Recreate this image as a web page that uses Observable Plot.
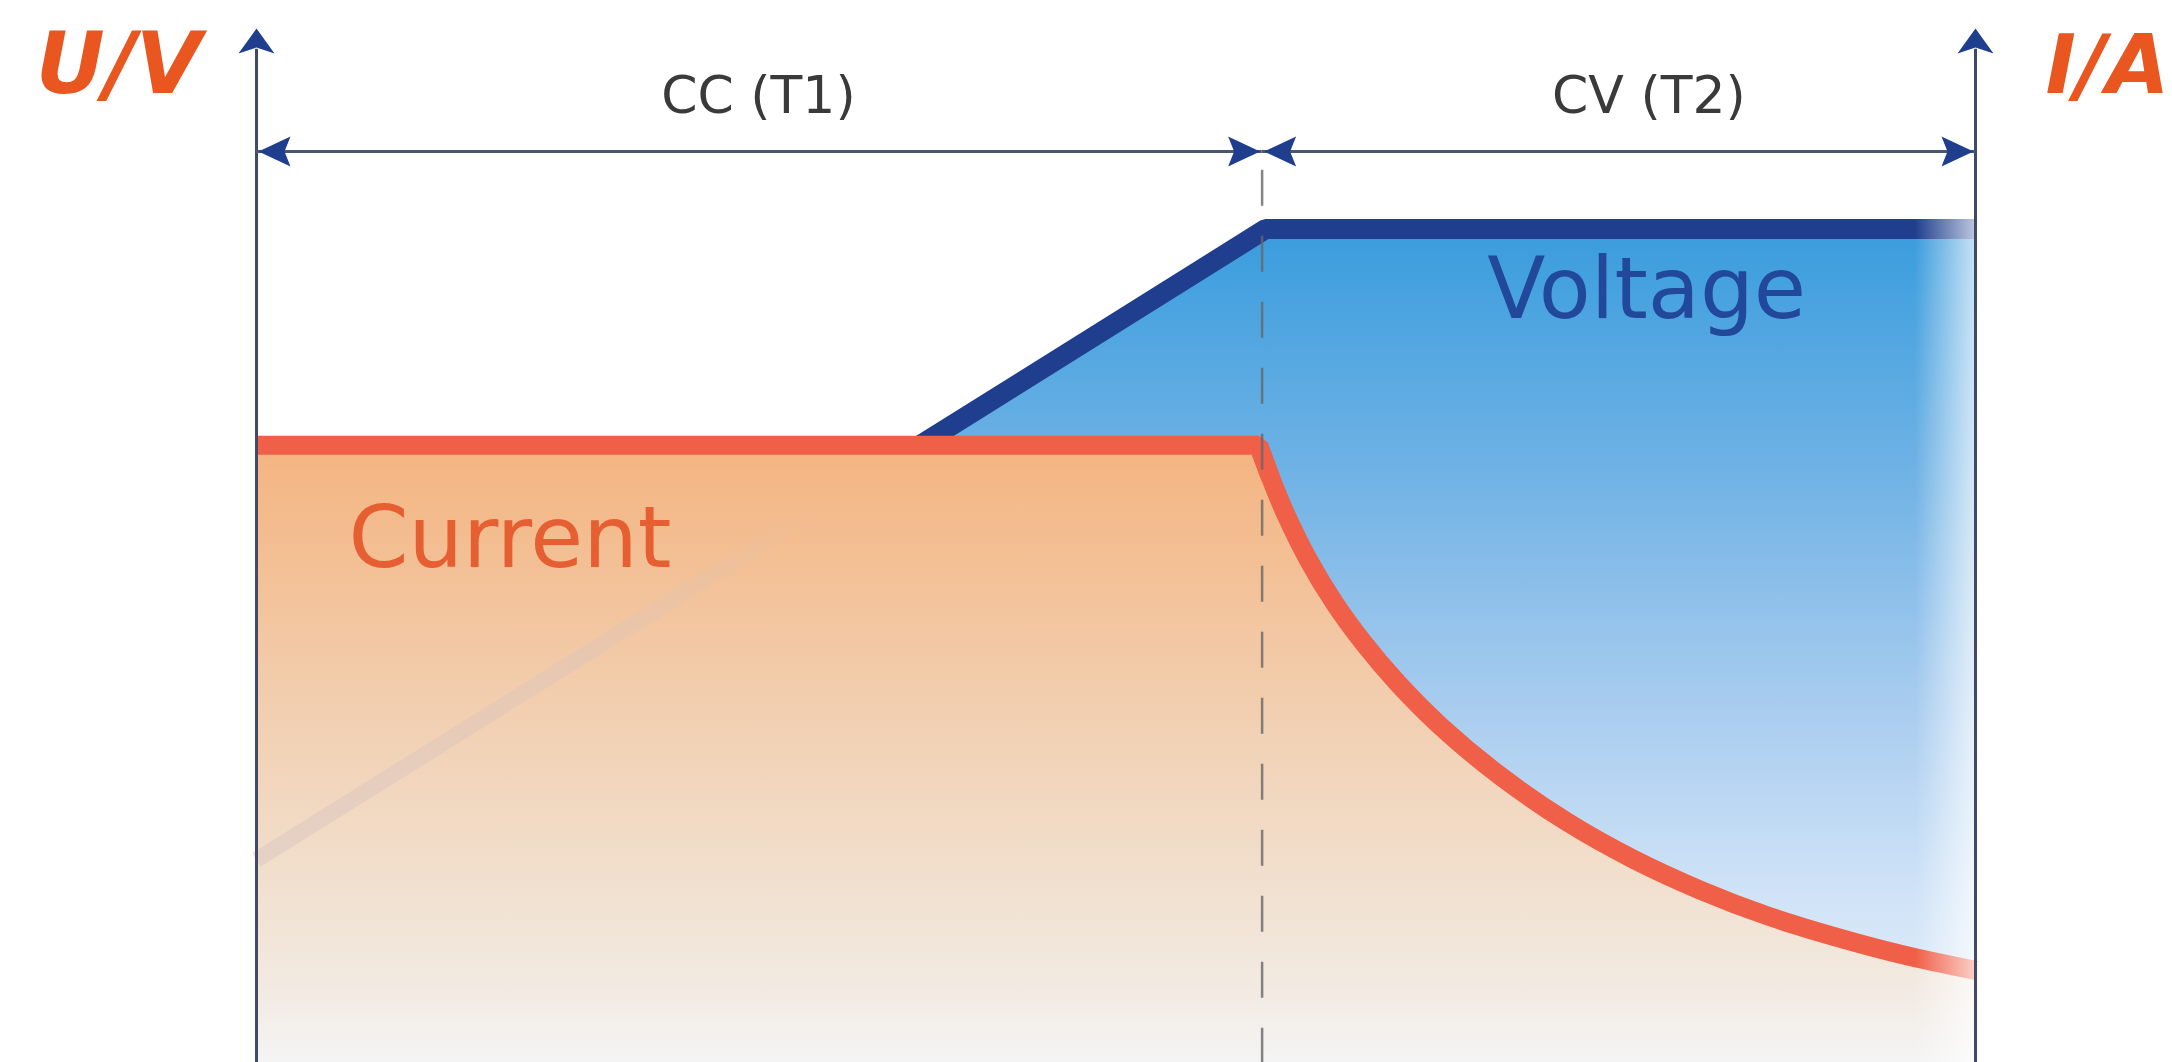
<!DOCTYPE html>
<html>
<head>
<meta charset="utf-8">
<script src="https://cdn.jsdelivr.net/npm/d3@7"></script>
<script src="https://cdn.jsdelivr.net/npm/@observablehq/plot@0.6"></script>
<style>
  html, body { margin: 0; padding: 0; background: #ffffff; }
  #chart svg { display: block; }
</style>
</head>
<body>
<div id="chart"></div>
<script>
// ---- data (time in % of total charge time, values in % of axis height) ----
const phaseNames  = ["CC (T1)", "CV (T2)"];
const phaseStart  = [0, 58.5];
const phaseEnd    = [58.5, 100];
const phaseLabelX = [29.2, 81.0];
const phaseArrowY = 88.1;
const phaseLabelY = 91.8;

const axisNames   = ["U/V", "I/A"];
const axisT       = [0, 100];
const axisTop     = 100;
const axisNameY   = 93.8;

const voltageT = [0, 38.6, 58.7, 100];
const voltageU = [19.6, 59.7, 80.6, 80.6];

const currentT = [0, 58.29, 58.99, 59.86, 61.20, 62.71, 64.40, 66.38, 68.88, 72.37, 76.27, 80.10, 84.00, 87.90, 91.74, 95.64, 100];
const currentI = [59.7, 59.7, 56.58, 53.08, 48.59, 44.44, 40.58, 36.70, 32.53, 27.69, 23.23, 19.66, 16.67, 14.18, 12.20, 10.47, 8.91];

const seriesNames = ["Voltage", "Current"];
const seriesLabelT = [71.6, 5.35];
const seriesLabelY = [72.0, 47.9];

const dividerTop = 86.3;
const fadeStartT = 96.5;
const fadeTopY = 82;

// ---- tables built from the arrays ----
const V = voltageT.map((t, i) => ({t, u: voltageU[i]}));
const C = currentT.map((t, i) => ({t, a: currentI[i]}));
const crossIdx = 1;   // voltage point where it meets the current line
const ccEndIdx = 1;   // current point where CC ends
const phases = phaseNames.map((name, i) => ({name, start: phaseStart[i], end: phaseEnd[i], lx: phaseLabelX[i]}));
const axes = axisNames.map((name, i) => ({name, t: axisT[i]}));
const labels = seriesNames.map((name, i) => ({name, t: seriesLabelT[i], y: seriesLabelY[i]}));

// ---- arrowhead symbols (tip at origin) ----
const headUp = {draw(c) { c.moveTo(0, 0); c.lineTo(18, 25); c.lineTo(0, 19); c.lineTo(-18, 25); c.closePath(); }};
const headLeft = {draw(c) { c.moveTo(0, 0); c.lineTo(32, -15); c.lineTo(26, 0); c.lineTo(32, 15); c.closePath(); }};
const headRight = {draw(c) { c.moveTo(0, 0); c.lineTo(-32, -15); c.lineTo(-26, 0); c.lineTo(-32, 15); c.closePath(); }};

const navy = "#1f3f8e";
const axisGrey = "#3f4b66";
const font = "'DejaVu Sans', 'Noto Sans', sans-serif";
const red = "#f05f47";

const svg = Plot.plot({
  width: 2172,
  height: 1062,
  marginLeft: 256,
  marginRight: 197,
  marginTop: 28,
  marginBottom: 0,
  x: {domain: [0, 100], axis: null},
  y: {domain: [0, 100], axis: null},
  style: {background: "#ffffff", overflow: "visible"},
  marks: [
    // voltage fill
    Plot.areaY(V, {x: "t", y1: 0, y2: "u", fill: "url(#blueGrad)"}),
    // current fill
    Plot.areaY(C, {x: "t", y1: 0, y2: "a", fill: "url(#orangeGrad)", curve: "monotone-x"}),
    // faint hidden part of voltage line
    Plot.line(V.slice(0, crossIdx + 1), {x: "t", y: "u", stroke: "url(#faintGrad)", strokeWidth: 16, strokeLinecap: "butt"}),
    // voltage line
    Plot.line(V.slice(crossIdx), {x: "t", y: "u", stroke: navy, strokeWidth: 20, strokeLinejoin: "miter", strokeLinecap: "butt"}),
    // current line: sharp corner at end of CC, smooth decay in CV
    Plot.line(C.slice(0, ccEndIdx + 2), {x: "t", y: "a", stroke: red, strokeWidth: 19, strokeLinejoin: "miter", strokeLinecap: "butt"}),
    Plot.line(C.slice(ccEndIdx), {x: "t", y: "a", stroke: red, strokeWidth: 19, curve: "catmull-rom", strokeLinecap: "butt"}),
    // dashed divider
    Plot.ruleX([phaseEnd[0]], {y1: dividerTop, y2: 0, stroke: "#666666", strokeWidth: 2.5, strokeOpacity: 0.8, strokeDasharray: "36,30"}),
    // right-edge fade
    Plot.rect([fadeStartT], {x1: d => d, x2: 100, y1: 0, y2: fadeTopY, fill: "url(#fadeRight)"}),
    // axes
    Plot.ruleX(axes, {x: "t", y1: 0, y2: axisTop - 2, stroke: axisGrey, strokeWidth: 3}),
    Plot.dot(axes, {x: "t", y: () => axisTop, symbol: headUp, fill: navy, stroke: "none"}),
    // phase dimension lines
    Plot.ruleY(phases, {y: () => phaseArrowY, x1: "start", x2: "end", stroke: "#4a5672", strokeWidth: 3}),
    Plot.dot(phases, {x: "start", y: () => phaseArrowY, dx: 2, symbol: headLeft, fill: navy, stroke: "none"}),
    Plot.dot(phases, {x: "end", y: () => phaseArrowY, dx: -2, symbol: headRight, fill: navy, stroke: "none"}),
    Plot.text(phases, {x: "lx", y: () => phaseLabelY, text: "name", fontFamily: font, fontSize: 52, fill: "#3a3a3a", lineAnchor: "bottom", textAnchor: "middle"}),
    // axis names
    Plot.text(axes.slice(0, 1), {x: "t", y: () => axisNameY, text: "name", dx: -55, textAnchor: "end", lineAnchor: "bottom", fontFamily: font, fontSize: 85, fontWeight: "bold", fontStyle: "italic", fill: "#e9561f"}),
    Plot.text(axes.slice(1), {x: "t", y: () => axisNameY, text: "name", dx: 70, textAnchor: "start", lineAnchor: "bottom", fontFamily: font, fontSize: 82, fontWeight: "bold", fontStyle: "italic", fill: "#e9561f"}),
    // series labels
    Plot.text(labels.slice(0, 1), {x: "t", y: "y", text: "name", textAnchor: "start", lineAnchor: "bottom", fontFamily: font, fontSize: 85, fill: "#21489a"}),
    Plot.text(labels.slice(1), {x: "t", y: "y", text: "name", textAnchor: "start", lineAnchor: "bottom", fontFamily: font, fontSize: 86, fill: "#e65f32"})
  ]
});

// gradient definitions
const defs = d3.select(svg).insert("defs", ":first-child");
function grad(id, x2, y2, stops, x1 = 0, y1 = 0) {
  const g = defs.append("linearGradient").attr("id", id)
    .attr("x1", x1).attr("y1", y1).attr("x2", x2).attr("y2", y2);
  for (const [o, c, op] of stops) {
    g.append("stop").attr("offset", o).attr("stop-color", c).attr("stop-opacity", op == null ? 1 : op);
  }
}
grad("blueGrad", 0, 1, [[0, "#3a9bdc"], [0.06, "#44a1df"], [0.3, "#71b3e5"], [0.55, "#a4caee"], [0.8, "#d0e3f7"], [1, "#e8f1fb"]]);
grad("orangeGrad", 0, 1, [[0, "#f4b480"], [0.15, "#f3bd90"], [0.4, "#f2cdad"], [0.7, "#f1dfcd"], [0.88, "#f2eae2"], [1, "#f4f4f4"]]);
grad("fadeRight", 1, 0, [[0, "#ffffff", 0], [1, "#ffffff", 0.7]]);
grad("faintGrad", 1, 0, [[0, "#d6c2bf", 0.45], [0.5, "#d6c2bf", 0.35], [0.85, "#d6c2bf", 0]], 0, 1);

document.getElementById("chart").appendChild(svg);
</script>
</body>
</html>
